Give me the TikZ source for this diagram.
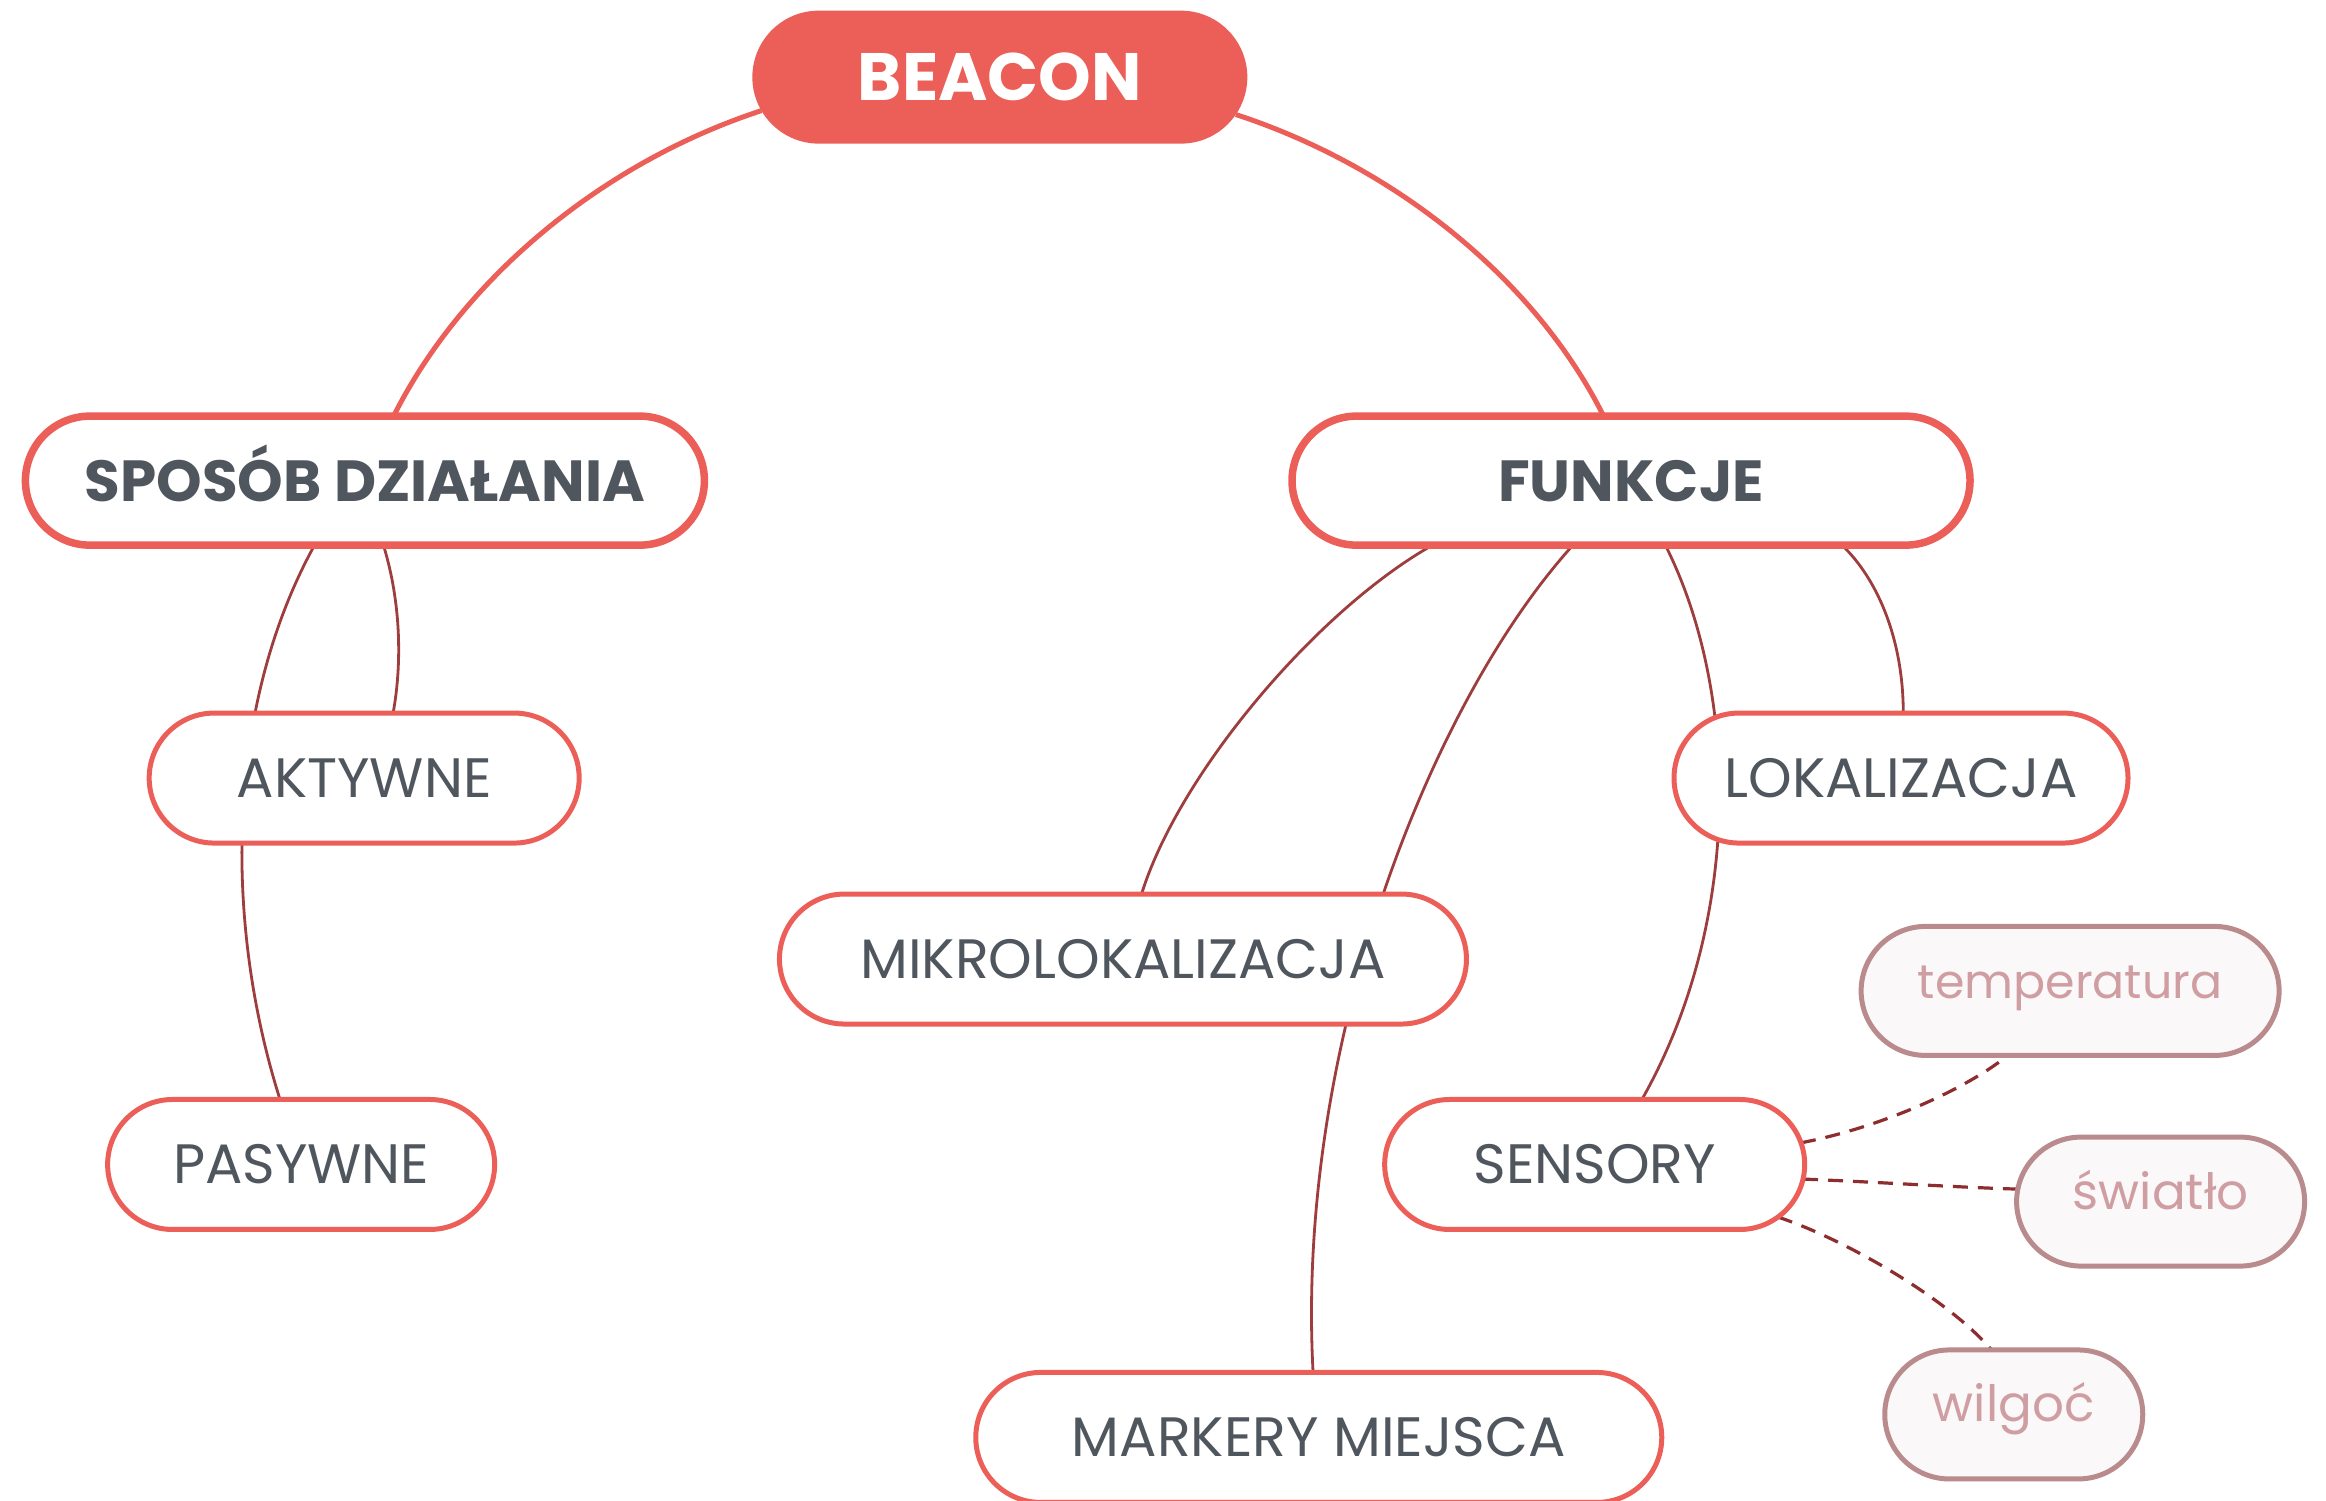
\documentclass[tikz,border=0pt]{standalone}
\usepackage{fontspec}
\setmainfont{Poppins}
\usetikzlibrary{shapes.misc,backgrounds}
\definecolor{bred}{RGB}{236,95,89}
\definecolor{tgray}{RGB}{80,86,94}
\definecolor{cdark}{RGB}{158,61,61}
\definecolor{ddark}{RGB}{142,45,45}
\definecolor{sborder}{RGB}{185,139,140}
\definecolor{sfill}{RGB}{251,248,249}
\definecolor{stext}{RGB}{207,158,162}
\begin{document}
\begin{tikzpicture}[x=1.48342pt,y=-1.48342pt,
 base/.style={rounded rectangle, inner sep=0pt, outer sep=0pt, align=center},
 rootnode/.style={base, fill=bred, text=white, minimum width=495pt, minimum height=133pt, text height=47pt, text depth=0pt, font=\fontsize{67}{77}\selectfont\bfseries},
 lvlone/.style={base, draw=bred, line width=7.5pt, fill=white, text=tgray, minimum height=129pt, text height=41pt, text depth=0pt, font=\fontsize{58}{66}\selectfont\bfseries},
 lvltwo/.style={base, draw=bred, line width=5pt, fill=white, text=tgray, minimum height=130pt, text height=38.5pt, text depth=0pt, font=\fontsize{55.5}{62}\selectfont},
 sensor/.style={base, draw=sborder, line width=5pt, fill=sfill, text=stext, minimum height=129pt, text height=36pt, text depth=21pt, font=\fontsize{50}{58}\selectfont},
 mainlink/.style={draw=bred, line width=5pt},
 sublink/.style={draw=cdark, line width=2.8pt},
 dashlink/.style={draw=ddark, line width=3.2pt, dash pattern=on 15pt off 10pt},
]
\useasboundingbox (0,0) rectangle (1568,1011.18);

\node[rootnode] (beacon) at (674,52) {BEACON};
\node[lvlone, minimum width=679pt] (sposob) at (246,324) {SPOSÓB DZIAŁANIA};
\node[lvlone, minimum width=678pt] (funkcje) at (1099.5,324) {FUNKCJE};
\node[lvltwo, minimum width=430pt] (aktywne) at (245.5,524.5) {AKTYWNE};
\node[lvltwo, minimum width=387pt] (pasywne) at (203,785) {PASYWNE};
\node[lvltwo, minimum width=454pt] (lokal) at (1281.5,524.5) {LOKALIZACJA};
\node[lvltwo, minimum width=687pt] (mikro) at (757,646.5) {MIKROLOKALIZACJA};
\node[lvltwo, minimum width=420pt] (sensory) at (1075,785) {SENSORY};
\node[lvltwo, minimum width=686pt] (markery) at (889,969) {MARKERY MIEJSCA};
\node[sensor, minimum width=418pt, font=\fontsize{47.5}{55}\selectfont] (temp) at (1395.5,668) {temperatura};
\node[sensor, minimum width=288pt] (swiatlo) at (1456.5,810) {światło};
\node[sensor, minimum width=258pt] (wilgoc) at (1357.5,953.5) {wilgoć};

\begin{scope}[on background layer]
\draw[mainlink] (beacon.188) .. controls +(-110,36) and +(45,-90) .. (sposob.66);
\draw[mainlink] (beacon.351.5) .. controls +(110,36) and +(-45,-90) .. (funkcje.113);
\draw[sublink] (sposob.286.6) .. controls +(12,39) and +(6,-33) .. (aktywne.66.2);
\draw[sublink] (sposob.232.5) .. controls +(-60,109) and +(-38,-120) .. (pasywne.108.4);
\draw[sublink] (funkcje.198.4) .. controls +(-78,44) and +(25,-81) .. (mikro.74.1);
\draw[sublink] (funkcje.228.6) .. controls +(-95,105) and +(-12,-223) .. (markery.95);
\draw[sublink] (funkcje.343.5) .. controls +(25,24) and +(0,-48) .. (lokal.88.2);
\draw[sublink] (funkcje.298.5) .. controls +(50,99) and +(68,-120) .. (sensory.54.6);
\draw[dashlink] (sensory.6.8) .. controls +(52,-10) and +(-30,24) .. (temp.226.5);
\draw[dashlink] (sensory.356) .. controls +(50,2) and +(-38,-1) .. (swiatlo.175.9);
\draw[dashlink] (sensory.344.9) .. controls +(45,15) and +(-30,-35) .. (wilgoc.109.8);
\end{scope}
\end{tikzpicture}
\end{document}
